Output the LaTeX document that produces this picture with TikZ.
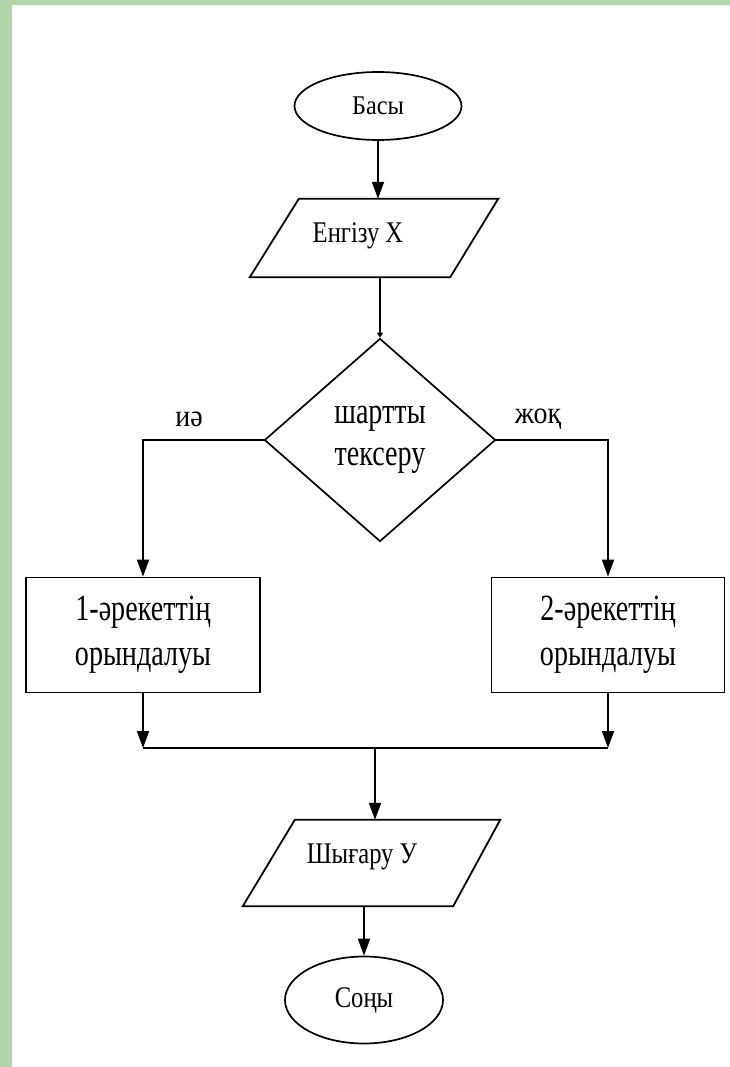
\documentclass[tikz,border=0pt]{standalone}
\usepackage{fontspec}
\setmainfont{Liberation Serif}
\newfontfamily\fA{Liberation Serif}[FakeStretch=0.9]
\newfontfamily\fB{Liberation Serif}[FakeStretch=0.76]
\newfontfamily\fC{Liberation Serif}[FakeStretch=0.82]
\usetikzlibrary{shapes.geometric,arrows.meta}
\definecolor{bggreen}{RGB}{178,212,170}
\tikzset{
  line/.style={line width=1.8pt, black},
  arr/.style={line, -{Triangle[length=17pt,width=12pt]}},
  smallarr/.style={line, -{Triangle[length=5pt,width=6pt]}},
  term/.style={ellipse, draw, line width=1.7pt, inner sep=0pt},
  io/.style={inner sep=0pt},
  proc/.style={draw, line width=1.7pt, inner sep=0pt, align=center, font=\fB\fontsize{37}{45}\selectfont},
  cond/.style={diamond, draw, line width=1.7pt, inner sep=0pt, align=center, font=\fB\fontsize{37}{42}\selectfont},
  lbl/.style={font=\fA\fontsize{31}{32}\selectfont, inner sep=0pt},
  txt/.style={font=\fC\fontsize{30}{32}\selectfont, inner sep=0pt}
}
\begin{document}
\begin{tikzpicture}[x=1pt,y=-1pt]
\useasboundingbox (0,0) rectangle (730,1067);
\fill[bggreen] (0,0) rectangle (730,1067);
\fill[white] (12,5) rectangle (730,1067);

% start
\node[term, minimum width=167pt, minimum height=68pt, font=\fA\fontsize{27}{30}\selectfont] (start) at (378,106) {Басы};

% input parallelogram
\node[io, minimum width=248pt, minimum height=78pt] (p1) at (374,238) {};
\draw[line] (p1.south west) -- ([xshift=-48pt]p1.south east) -- (p1.north east) -- ([xshift=49pt]p1.north west) -- cycle;
\node[txt] (t1) at (358,236) {Енгізу X};

% condition
\node[cond, minimum width=231pt, minimum height=203pt] (cond) at (380,440) {шартты\\тексеру};
\node[lbl] (yes) at (189,419) {иә};
\node[lbl] (no) at (538,419) {жоқ};

% process boxes
\node[proc, minimum width=234pt, minimum height=115pt] (b1) at (143,635) {1-әрекеттің\\орындалуы};
\node[proc, minimum width=233pt, minimum height=115pt] (b2) at (608,635) {2-әрекеттің\\орындалуы};

\coordinate (jl) at (143,748);
\coordinate (jr) at (608,748);
\coordinate (jm) at (375,748);

% output parallelogram
\node[io, minimum width=257pt, minimum height=86pt] (p2) at (371.5,863) {};
\draw[line] (p2.south west) -- ([xshift=-47pt]p2.south east) -- (p2.north east) -- ([xshift=52pt]p2.north west) -- cycle;
\node[txt] (t2) at (362,857) {Шығару У};

% end
\node[term, minimum width=158pt, minimum height=87pt, font=\fC\fontsize{30}{32}\selectfont] (end) at (364,1000) {Соңы};

% connectors
\draw[arr] (start.south) -- (start.south |- p1.north);
\draw[smallarr] (cond.north |- p1.south) -- (cond.north);
\draw[arr] (cond.west) -| (b1.north);
\draw[arr] (cond.east) -| (b2.north);
\draw[arr] (b1.south) -- (jl);
\draw[arr] (b2.south) -- (jr);
\draw[line] (jl) -- (jr);
\draw[arr] (jm) -- (jm |- p2.north);
\draw[arr] (end.north |- p2.south) -- (end.north);
\end{tikzpicture}
\end{document}
